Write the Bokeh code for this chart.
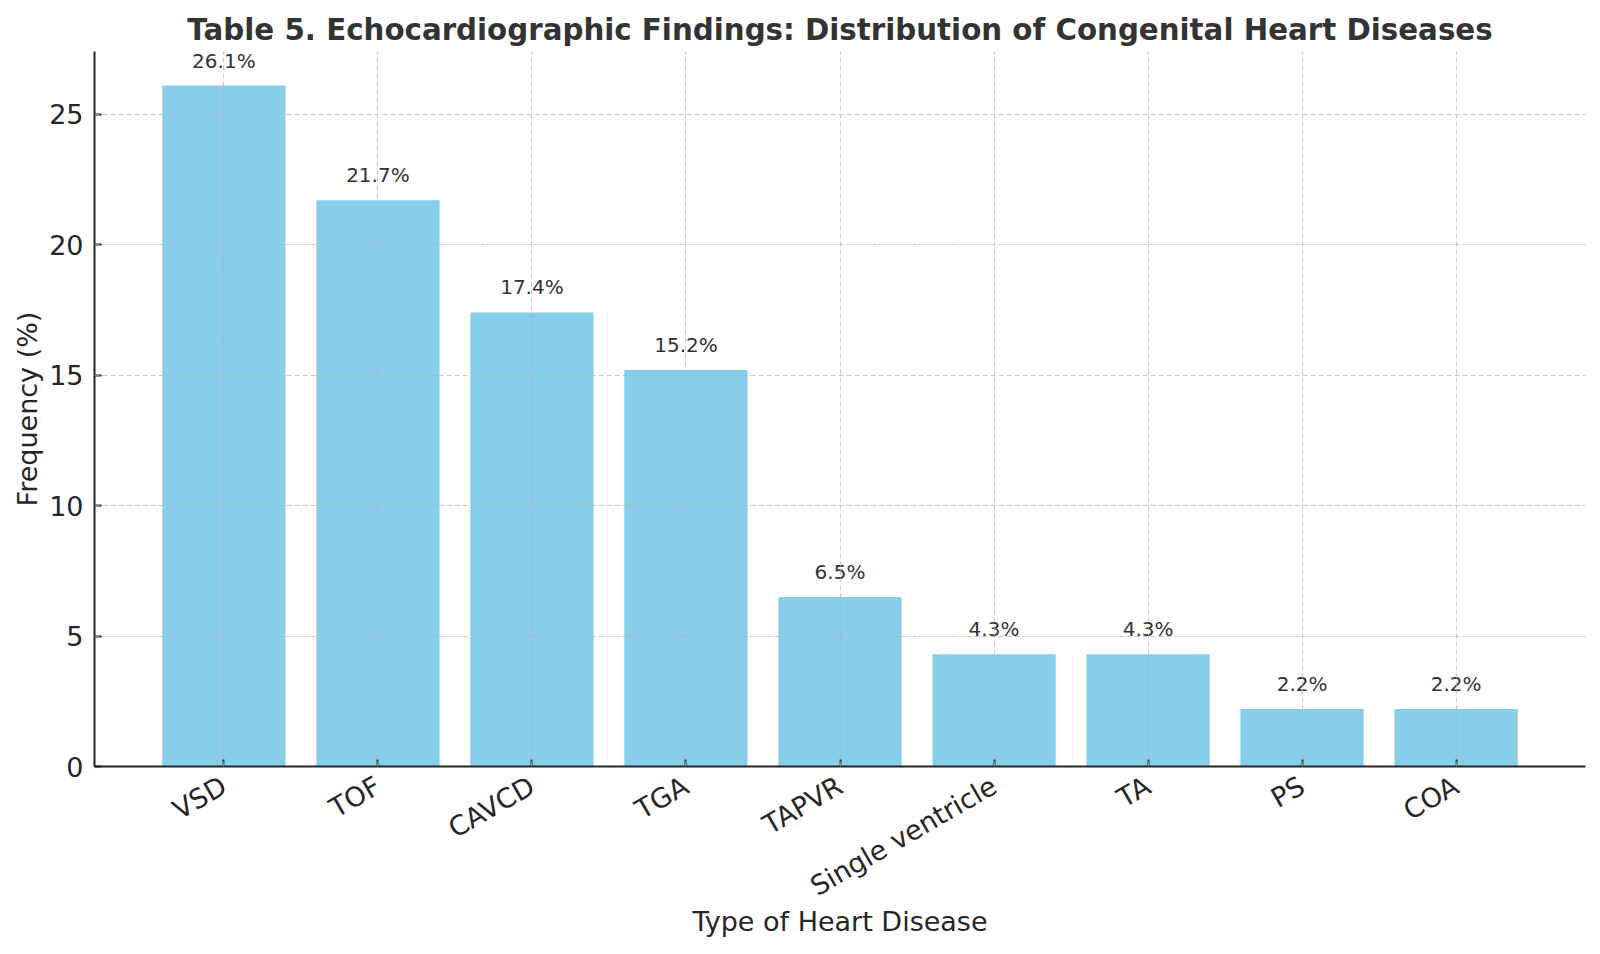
import math
from bokeh.plotting import figure
from bokeh.models import Range1d, FixedTicker, ColumnDataSource
from bokeh.embed import file_html
from bokeh.resources import INLINE
from bokeh.core.properties import value

categories = ["VSD", "TOF", "CAVCD", "TGA", "TAPVR", "Single ventricle", "TA", "PS", "COA"]
frequencies = [26.1, 21.7, 17.4, 15.2, 6.5, 4.3, 4.3, 2.2, 2.2]
y_ticks = [0, 5, 10, 15, 20, 25]
title_text = "Table 5. Echocardiographic Findings: Distribution of Congenital Heart Diseases"
x_title = "Type of Heart Disease"
y_title = "Frequency (%)"

FONT = "DejaVu Sans"
positions = list(range(len(categories)))
n = len(categories)

src = ColumnDataSource(dict(
    x=positions,
    top=frequencies,
    label=[f"{v}%" for v in frequencies],
    ly=[v + 0.5 for v in frequencies],
))

p = figure(frame_width=1491, frame_height=715, output_backend="svg", toolbar_location=None,
           x_range=Range1d(-0.84, (n - 1) + 0.84),
           y_range=Range1d(0, max(frequencies) * 1.05),
           min_border_left=94, min_border_right=13, min_border_top=51, min_border_bottom=186)

p.outline_line_color = None
p.background_fill_color = "white"
p.border_fill_color = "white"

p.title.text = title_text
p.title.align = "center"
p.title.text_font = FONT
p.title.text_font_size = "29.3px"
p.title.text_font_style = "bold"
p.title.text_color = "#333333"
p.title.standoff = 9

p.vbar(x="x", top="top", width=0.8, source=src, fill_color="#87CEEB", line_color=None)
p.text(x="x", y="ly", text="label", source=src, text_align="center", text_baseline="bottom",
       text_font_size="20px", text_color="#333333", text_font=value(FONT))

# axes
p.xaxis.ticker = FixedTicker(ticks=positions)
p.xaxis.major_label_overrides = {i: c for i, c in enumerate(categories)}
p.xaxis.major_label_orientation = math.pi / 6
p.yaxis.ticker = FixedTicker(ticks=y_ticks)
p.xaxis.axis_label = x_title
p.yaxis.axis_label = y_title

for ax in (p.xaxis, p.yaxis):
    ax.axis_line_color = "#262626"
    ax.axis_line_width = 2
    ax.major_tick_in = 7
    ax.major_tick_out = 0
    ax.major_tick_line_color = "#262626"
    ax.major_tick_line_width = 1.8
    ax.minor_tick_line_color = None
    ax.major_label_text_font = FONT
    ax.major_label_text_font_size = "27px"
    ax.major_label_text_color = "#262626"
    ax.axis_label_text_font = FONT
    ax.axis_label_text_font_size = "27px"
    ax.axis_label_text_font_style = "normal"
    ax.axis_label_text_color = "#262626"

p.yaxis.major_label_standoff = 11
p.yaxis.axis_label_standoff = 3
p.xaxis.major_label_standoff = 17
p.xaxis.axis_label_standoff = -12

p.xgrid.ticker = FixedTicker(ticks=positions)
p.ygrid.ticker = FixedTicker(ticks=y_ticks)
p.grid.grid_line_color = "#b0b0b0"
p.grid.grid_line_alpha = 0.7
p.grid.grid_line_width = 1
p.grid.grid_line_dash = "5 3"
p.grid.level = "overlay"

open("out.html", "w").write(file_html(p, INLINE))
